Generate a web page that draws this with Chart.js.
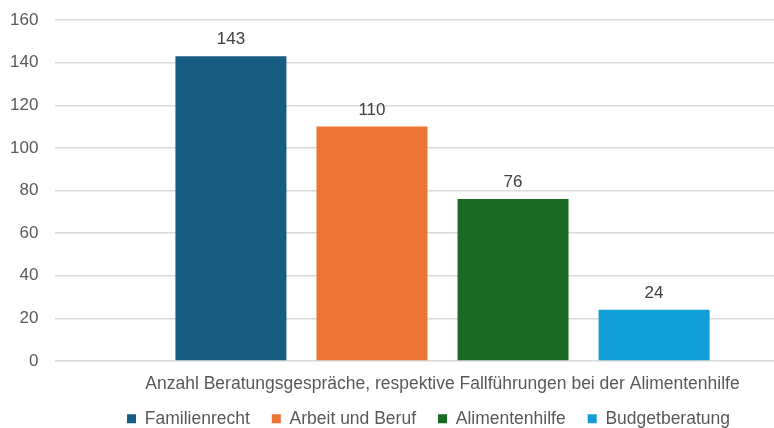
<!DOCTYPE html>
<html lang="de">
<head>
<meta charset="UTF-8">
<title>Beratungen</title>
<script src="https://cdn.jsdelivr.net/npm/chart.js"></script>
<style>
  html, body { margin: 0; padding: 0; background: #fff; overflow: hidden; }
  #wrap { width: 774px; height: 428px; overflow: hidden; }
</style>
</head>
<body>
<div id="wrap"><canvas id="chart" width="830" height="428"></canvas></div>
<script>
// Daten
const categories = ['Anzahl Beratungsgespräche, respektive Fallführungen bei der Alimentenhilfe'];
const seriesNames = ['Familienrecht', 'Arbeit und Beruf', 'Alimentenhilfe', 'Budgetberatung'];
const familienrecht = [143];
const arbeitUndBeruf = [110];
const alimentenhilfe = [76];
const budgetberatung = [24];
const yTicks = [0, 20, 40, 60, 80, 100, 120, 140, 160];

const colors = ['#175d82', '#eb7333', '#1b6a24', '#119fd6'];
const values = [familienrecht, arbeitUndBeruf, alimentenhilfe, budgetberatung];

const fontFamily = '"Liberation Sans", Arial, sans-serif';

// Werte über den Balken
const valueLabels = {
  id: 'valueLabels',
  afterDatasetsDraw(chart) {
    const ctx = chart.ctx;
    ctx.save();
    ctx.font = '17px ' + fontFamily;
    ctx.fillStyle = '#404040';
    ctx.textAlign = 'center';
    ctx.textBaseline = 'alphabetic';
    chart.data.datasets.forEach((ds, i) => {
      chart.getDatasetMeta(i).data.forEach((bar, j) => {
        ctx.fillText(ds.data[j], bar.x, bar.y - 12);
      });
    });
    ctx.restore();
  }
};

new Chart(document.getElementById('chart').getContext('2d'), {
  type: 'bar',
  data: {
    labels: categories,
    datasets: seriesNames.map((name, i) => ({
      label: name,
      data: values[i],
      backgroundColor: colors[i],
      categoryPercentage: 0.728,
      barPercentage: 0.787
    }))
  },
  options: {
    responsive: false,
    animation: false,
    layout: { padding: { left: 27, right: 0, top: 20, bottom: -9.5 } },
    plugins: {
      legend: {
        position: 'bottom',
        labels: {
          boxWidth: 9,
          boxHeight: 9,
          padding: 22,
          color: '#595959',
          font: { family: fontFamily, size: 17.5 }
        }
      },
      tooltip: { enabled: false }
    },
    scales: {
      x: {
        grid: { display: false, drawTicks: false },
        border: { display: false },
        ticks: { display: false },
        // Kategorienname als Achsentitel, damit er nicht abgeschnitten wird
        title: {
          display: true,
          text: categories[0],
          color: '#595959',
          font: { family: fontFamily, size: 17.5 },
          padding: { top: 0, bottom: -6.5 }
        },
        afterFit(axis) { axis.height = 27; }
      },
      y: {
        min: 0,
        max: 160,
        afterBuildTicks(axis) { axis.ticks = yTicks.map(v => ({ value: v })); },
        grid: { color: '#d9d9d9', lineWidth: 1.5, drawTicks: false },
        border: { display: false },
        ticks: {
          color: '#595959',
          font: { family: fontFamily, size: 17 },
          mirror: true,
          crossAlign: 'far',
          padding: -45
        },
        afterFit(axis) { axis.width = 28; }
      }
    }
  },
  plugins: [valueLabels]
});
</script>
</body>
</html>
